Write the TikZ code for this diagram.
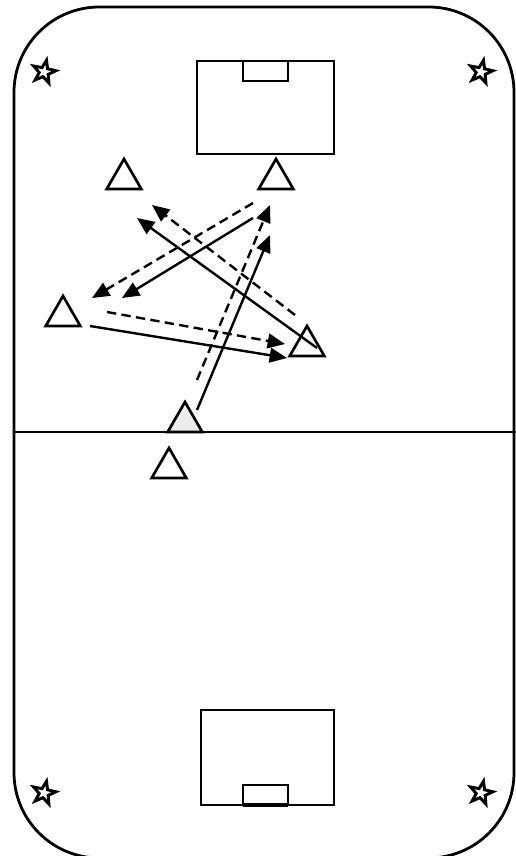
\documentclass[tikz,border=0pt]{standalone}
\usetikzlibrary{shapes.geometric,arrows.meta}
\begin{document}
\begin{tikzpicture}[x=0.75pt,y=-0.75pt,
  field/.style={line width=2.1pt},
  goalline/.style={line width=2pt},
  cone/.style={draw,line width=2pt,fill=white,regular polygon,regular polygon sides=3,minimum size=30pt,inner sep=0pt,outer sep=0pt},
  flag/.style={draw,line width=2.2pt,fill=white,star,star points=5,star point ratio=2.5,minimum size=18pt,inner sep=0pt,rotate=-12},
  pass/.style={line width=1.8pt,-{Triangle[length=13pt,width=11pt]}},
  run/.style={pass,dash pattern=on 7pt off 4pt}]
\useasboundingbox (0,0) rectangle (516,856);
\draw[field,rounded corners=64pt] (14,7) rectangle (514,858);
\draw[field] (14,432) -- (516,432);
% goals
\draw[goalline] (197,61) rectangle (334,154);
\draw[goalline] (243,61) rectangle (288,81);
\draw[goalline] (201,710) rectangle (334,805);
\draw[goalline] (243,785) rectangle (288,805);
\draw[line width=3.5pt] (243,805) -- (288,805);
% flags
\node[flag] (f1) at (44,72) {};
\node[flag] (f2) at (481,72) {};
\node[flag] (f3) at (44,793) {};
\node[flag] (f4) at (481,793) {};
% cones
\node[cone] (t1) at (124,179) {};
\node[cone] (t2) at (276,179) {};
\node[cone] (t3) at (63,316) {};
\node[cone] (t4) at (307,346) {};
\node[cone,fill=gray!15] (t5) at (185,422) {};
\node[cone] (t6) at (169,468) {};
% arrow endpoints
\coordinate (a1s) at (253,203); \coordinate (a1e) at (92,298);
\coordinate (a2s) at (295,315); \coordinate (a2e) at (152,205);
\coordinate (a3s) at (107,312); \coordinate (a3e) at (285,344);
\coordinate (a4s) at (197,380); \coordinate (a4e) at (270,205);
\coordinate (b1s) at (253,218); \coordinate (b1e) at (122,298);
\coordinate (b2s) at (317,348); \coordinate (b2e) at (137,218);
\coordinate (b3s) at (90,326);  \coordinate (b3e) at (287,358);
\coordinate (b4s) at (197,410); \coordinate (b4e) at (270,235);
\draw[run] (a1s) -- (a1e);
\draw[run] (a2s) -- (a2e);
\draw[run] (a3s) -- (a3e);
\draw[run] (a4s) -- (a4e);
\draw[pass] (b1s) -- (b1e);
\draw[pass] (b2s) -- (b2e);
\draw[pass] (b3s) -- (b3e);
\draw[pass] (b4s) -- (b4e);
\end{tikzpicture}
\end{document}
